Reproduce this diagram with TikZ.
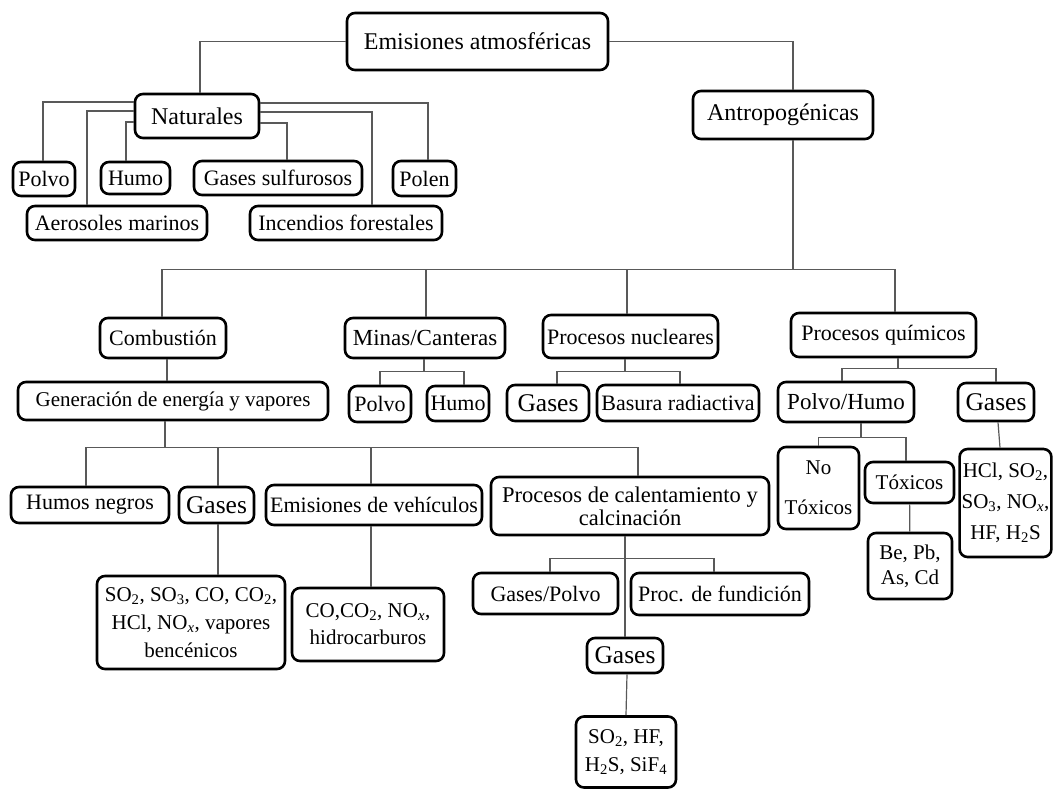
\documentclass[tikz,border=0pt]{standalone}
\usepackage{fontspec}
\setmainfont{Liberation Serif}

\begin{document}
\begin{tikzpicture}[
    x=1pt, y=-1pt,
    every node/.style={font=\fontsize{22}{27}\selectfont, align=center, inner sep=2pt},
    item/.style={draw, line width=2.6pt, rounded corners=8pt},
    top/.style={item, font=\fontsize{24}{28}\selectfont},
    chem/.style={item, font=\fontsize{21}{27}\selectfont},
    gas/.style={item, font=\fontsize{25.5}{30}\selectfont},
    link/.style={draw=black!65, line width=1.2pt}
]
\useasboundingbox (0,0) rectangle (1060,790);

% top levels
\node[top, minimum width=261, minimum height=57] (emis) at (477.5,41.5) {Emisiones atmosféricas};
\node[top, minimum width=124, minimum height=44] (nat) at (197,116) {Naturales};
\node[top, minimum width=180, minimum height=48] (antro) at (783,115) {Antropogénicas};

% natural sources
\node[item, minimum width=62, minimum height=34] (polvoN) at (44,179) {Polvo};
\node[item, minimum width=69, minimum height=32] (humoN) at (135.5,178) {Humo};
\node[item, minimum width=168, minimum height=34] (gsulf) at (278,178) {Gases sulfurosos};
\node[item, minimum width=63, minimum height=35] (polen) at (424.5,178.5) {Polen};
\node[item, minimum width=180, minimum height=34] (aero) at (117,223) {Aerosoles marinos};
\node[item, minimum width=192, minimum height=34] (incend) at (346,223) {Incendios forestales};

% anthropogenic sources
\node[item, minimum width=126, minimum height=40] (comb) at (163,338) {Combustión};
\node[item, minimum width=160, minimum height=40, font=\fontsize{23}{27}\selectfont] (minas) at (425,338) {Minas/Canteras};
\node[item, minimum width=175, minimum height=43] (nucl) at (630.5,336.5) {Procesos nucleares};
\node[item, minimum width=185, minimum height=44] (quim) at (883.5,335) {Procesos químicos};

\node[chem, minimum width=310, minimum height=38] (gen) at (173,401) {Generación de energía y vapores};
\node[item, minimum width=62, minimum height=36] (polvoM) at (380,404) {Polvo};
\node[item, minimum width=62, minimum height=35] (humoM) at (458,403.5) {Humo};
\node[gas, minimum width=82, minimum height=36] (gasesN) at (548,403) {Gases};
\node[item, minimum width=162, minimum height=36] (basura) at (678,403) {Basura radiactiva};
\node[item, minimum width=136, minimum height=40, font=\fontsize{23}{27}\selectfont] (polhumo) at (846,402) {Polvo/Humo};
\node[gas, minimum width=76, minimum height=38] (gasesQ) at (996,402) {Gases};

% combustion branch
\node[item, minimum width=158, minimum height=36] (humneg) at (90,505) {Humos negros};
\node[gas, minimum width=75, minimum height=36] (gasesG) at (216.5,505) {Gases};
\node[item, minimum width=216, minimum height=40] (emisveh) at (374,505) {Emisiones de vehículos};
\node[item, minimum width=278, minimum height=58, font=\fontsize{22.5}{23}\selectfont] (calent) at (630,506) {Procesos de calentamiento y\\calcinación};
\node[chem, minimum width=188, minimum height=93, font=\fontsize{21}{28}\selectfont] (so2box) at (191,622.5)
  {SO\textsubscript{2}, SO\textsubscript{3}, CO, CO\textsubscript{2},\\HCl, NO\textsubscript{\textit{x}}, vapores\\bencénicos};
\node[chem, minimum width=152, minimum height=73] (cobox) at (368,624.5)
  {CO,CO\textsubscript{2}, NO\textsubscript{\textit{x}},\\hidrocarburos};

\node[item, minimum width=145, minimum height=41] (gpolvo) at (545.5,593.5) {Gases/Polvo};
\node[item, minimum width=178, minimum height=42] (fund) at (720,594) {Proc. de fundición};
\node[gas, minimum width=76, minimum height=35] (gases2) at (625,655.5) {Gases};
\node[chem, minimum width=100, minimum height=71, font=\fontsize{21}{28}\selectfont] (so2hf) at (626,752)
  {SO\textsubscript{2}, HF,\\H\textsubscript{2}S, SiF\textsubscript{4}};

% chemical branch
\node[chem, minimum width=81, minimum height=82, font=\fontsize{21}{40}\selectfont] (notox) at (818.5,488) {No\\Tóxicos};
\node[chem, minimum width=89, minimum height=41] (tox) at (909.5,482.5) {Tóxicos};
\node[chem, minimum width=84, minimum height=66, font=\fontsize{21}{25}\selectfont] (beb) at (910,566) {Be, Pb,\\As, Cd};
\node[chem, minimum width=91, minimum height=108, font=\fontsize{21}{31}\selectfont] (hcl) at (1005.5,503)
  {HCl, SO\textsubscript{2},\\SO\textsubscript{3}, NO\textsubscript{\textit{x}},\\HF, H\textsubscript{2}S};

% connectors
\draw[link] (emis.west) -| ([xshift=3]nat.north);
\draw[link] (emis.east) -| ([xshift=10]antro.north);

\draw[link] ([yshift=14]nat.west) -| ([xshift=-1]polvoN.north);
\draw[link] ([yshift=5]nat.west) -| ([xshift=-30]aero.north);
\draw[link] ([yshift=-6]nat.west) -| ([xshift=-9.5]humoN.north);
\draw[link] ([yshift=13]nat.east) -| ([xshift=3.5]polen.north);
\draw[link] ([yshift=4]nat.east) -| ([xshift=26]incend.north);
\draw[link] ([yshift=-7]nat.east) -| ([xshift=9]gsulf.north);

\foreach \c/\dx in {comb/-1, minas/1, nucl/-3.5, quim/11.5}
  \draw[link] ([xshift=10]antro.south) -- ++(0,129) -| ([xshift=\dx]\c.north);

\draw[link] ([xshift=4]comb.south) -- ([xshift=-6]gen.north);
\foreach \c/\dx in {humneg/-4, gasesG/1.5, emisveh/-3, calent/8}
  \draw[link] ([xshift=-8]gen.south) -- ++(0,26) -| ([xshift=\dx]\c.north);
\draw[link] ([xshift=1.5]gasesG.south) -- ([xshift=27]so2box.north);
\draw[link] ([xshift=-3]emisveh.south) -- ([xshift=3]cobox.north);

\foreach \c/\dx in {polvoM/0, humoM/6}
  \draw[link] ([xshift=-1]minas.south) -- ++(0,12) -| ([xshift=\dx]\c.north);
\foreach \c/\dx in {gasesN/9, basura/2}
  \draw[link] ([xshift=-5.5]nucl.south) -- ++(0,12) -| ([xshift=\dx]\c.north);
\foreach \c/\dx in {polhumo/-4, gasesQ/0}
  \draw[link] ([xshift=14.5]quim.south) -- ++(0,10) -| ([xshift=\dx]\c.north);
\foreach \c/\dx in {notox/0, tox/-3.5}
  \draw[link] ([xshift=15]polhumo.south) -- ++(0,14) -| ([xshift=\dx]\c.north);
\draw[link] (tox) -- (beb);
\draw[link] ([xshift=2]gasesQ.south) -- ([xshift=-5.5]hcl.north);

\foreach \c/\dx in {gpolvo/4.5, fund/-6}
  \draw[link] ([xshift=-5]calent.south) -- ++(0,22) -| ([xshift=\dx]\c.north);
\draw[link] ([xshift=-5]calent.south) -- (gases2.north);
\draw[link] ([xshift=2]gases2.south) -- (so2hf.north);
\end{tikzpicture}
\end{document}
